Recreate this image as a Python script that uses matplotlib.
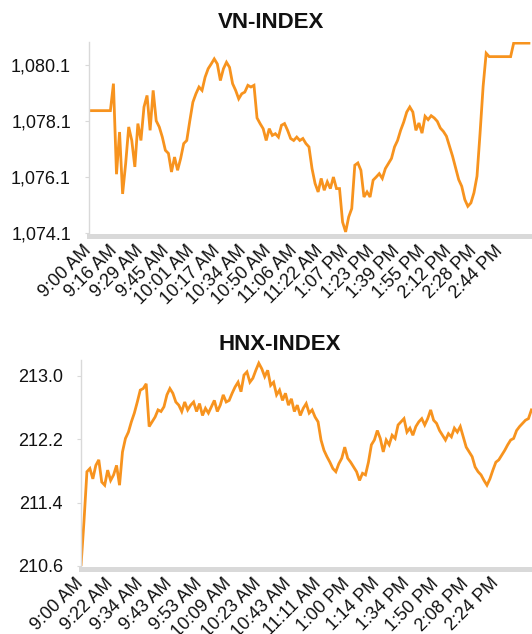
import matplotlib
matplotlib.use("Agg")
import matplotlib.pyplot as plt
import numpy as np
from matplotlib.ticker import FuncFormatter

plt.rcParams['font.family'] = ['Liberation Sans', 'DejaVu Sans']

# ---------------- data ----------------
vn_labels = ["9:00 AM", "9:16 AM", "9:29 AM", "9:45 AM", "10:01 AM", "10:17 AM",
             "10:34 AM", "10:50 AM", "11:06 AM", "11:22 AM", "1:07 PM", "1:23 PM",
             "1:39 PM", "1:55 PM", "2:12 PM", "2:28 PM", "2:44 PM"]
vn_values = [1078.46] * 8 + [
    1079.42, 1076.2, 1077.7, 1075.5, 1076.58, 1077.88, 1077.4, 1076.46, 1078.0, 1077.4,
    1078.59, 1079.0, 1077.76, 1079.18, 1078.1, 1077.88, 1077.52, 1077.05, 1076.94, 1076.28,
    1076.81, 1076.34, 1076.76, 1077.29, 1077.4, 1078.1, 1078.76, 1079.06, 1079.3, 1079.18,
    1079.65, 1079.95, 1080.12, 1080.3, 1080.12, 1079.53, 1079.95, 1080.18, 1080.0, 1079.42,
    1079.18, 1078.88, 1079.06, 1079.12, 1079.36, 1079.3, 1079.36, 1078.2, 1078.0, 1077.82,
    1077.4, 1077.82, 1077.58, 1077.64, 1077.52, 1077.94, 1078.0, 1077.76, 1077.47, 1077.4,
    1077.52, 1077.4, 1077.47, 1077.29, 1077.17, 1076.4, 1075.87, 1075.57, 1076.05, 1075.63,
    1075.93, 1075.69, 1076.1, 1075.69, 1075.69, 1074.5, 1074.15, 1074.68, 1074.98, 1076.52,
    1076.6, 1076.34, 1075.39, 1075.57, 1075.39, 1075.99, 1076.1, 1076.22, 1076.05, 1076.4,
    1076.58, 1076.76, 1077.17, 1077.4, 1077.76, 1078.05, 1078.41, 1078.59, 1078.41, 1077.76,
    1078.02, 1077.66, 1078.26, 1078.14, 1078.28, 1078.2, 1078.08, 1077.84, 1077.72, 1077.55,
    1077.19, 1076.84, 1076.42, 1076.01, 1075.77, 1075.3, 1075.06, 1075.18, 1075.54, 1076.13,
    1077.66, 1079.32, 1080.5] + [1080.38] * 8 + [1080.86] * 6
vn_yticks = [1074.1, 1076.1, 1078.1, 1080.1]

hnx_labels = ["9:00 AM", "9:22 AM", "9:34 AM", "9:43 AM", "9:53 AM", "10:09 AM",
              "10:23 AM", "10:43 AM", "11:11 AM", "1:00 PM", "1:14 PM", "1:34 PM",
              "1:50 PM", "2:08 PM", "2:24 PM"]
hnx_values = [
    210.6, 211.16, 211.79, 211.83, 211.7, 211.87, 211.94, 211.66, 211.62, 211.81,
    211.68, 211.75, 211.87, 211.62, 212.04, 212.21, 212.29, 212.42, 212.53, 212.67,
    212.82, 212.84, 212.9, 212.36, 212.42, 212.48, 212.57, 212.55, 212.61, 212.76,
    212.84, 212.78, 212.67, 212.63, 212.55, 212.67, 212.57, 212.63, 212.67, 212.55,
    212.65, 212.5, 212.59, 212.53, 212.61, 212.69, 212.55, 212.63, 212.76, 212.67,
    212.69, 212.78, 212.86, 212.92, 212.8, 213.01, 213.05, 212.92, 212.97, 213.07,
    213.16, 213.09, 212.99, 213.07, 212.88, 212.92, 212.76, 212.82, 212.69, 212.78,
    212.63, 212.71, 212.55, 212.63, 212.5, 212.59, 212.65, 212.53, 212.57, 212.48,
    212.42, 212.19, 212.06, 211.98, 211.91, 211.83, 211.79, 211.89, 211.96, 212.1,
    211.96, 211.91, 211.85, 211.79, 211.68, 211.77, 211.75, 211.91, 212.13, 212.19,
    212.31, 212.21, 212.04, 212.19, 212.13, 212.25, 212.21, 212.38, 212.42, 212.46,
    212.29, 212.34, 212.25, 212.36, 212.42, 212.46, 212.38, 212.46, 212.57, 212.44,
    212.4, 212.31, 212.25, 212.19, 212.27, 212.23, 212.34, 212.29, 212.36, 212.23,
    212.1, 212.04, 211.98, 211.85, 211.79, 211.75, 211.68, 211.62, 211.7, 211.81,
    211.91, 211.94, 212.0, 212.06, 212.13, 212.19, 212.21, 212.31, 212.36, 212.4,
    212.44, 212.46, 212.57]
hnx_yticks = [210.6, 211.4, 212.2, 213.0]

# ---------------- style ----------------
LINE = '#F7931E'
GRID = '#D9D9D9'
W, H = 532, 634
fig = plt.figure(figsize=(W / 100, H / 100), dpi=100)


def make_axes(rect, values, labels, tick_step, yticks, ylim, xmax, fmt):
    ax = fig.add_axes(rect)
    x = np.arange(len(values))
    ax.plot(x, values, color=LINE, lw=2.0, solid_joinstyle='miter')
    ax.set_xlim(0, xmax)
    ax.set_ylim(*ylim)
    ax.set_yticks(yticks)
    ax.yaxis.set_major_formatter(FuncFormatter(fmt))
    ax.set_xticks(np.arange(len(labels)) * tick_step)
    ax.set_xticklabels(labels)
    for s in ['top', 'right']:
        ax.spines[s].set_visible(False)
    ax.spines['left'].set_color(GRID)
    ax.spines['left'].set_linewidth(1.0)
    ax.spines['bottom'].set_color(GRID)
    ax.spines['bottom'].set_linewidth(3.6)
    ax.spines['bottom'].set_position(('outward', 1.8))
    ax.tick_params(axis='y', length=3, width=0.8, color=GRID, pad=10,
                   labelsize=13, labelcolor='#111111')
    ax.tick_params(axis='x', length=0, pad=9, labelsize=13, labelcolor='#111111')
    for lab in ax.get_xticklabels():
        lab.set_rotation(45)
        lab.set_ha('right')
        lab.set_va('center')
        lab.set_rotation_mode('anchor')
    return ax


def px_rect(left, top, right, bottom):
    return [left / W, 1 - bottom / H, (right - left) / W, (bottom - top) / H]


make_axes(px_rect(89, 42, 532, 233.3), vn_values, vn_labels, 8.41, vn_yticks,
          (1074.1, 1080.9), 145.0, lambda v, p: f"{v:,.1f}")
make_axes(px_rect(81, 360, 532, 566), hnx_values, hnx_labels, 10, hnx_yticks,
          (210.6, 213.2), 152.2, lambda v, p: f"{v:.1f}")

fig.text(271 / W, 1 - 23 / H, "VN-INDEX", ha='center', va='center',
         fontsize=16, fontweight='bold', color='#111111')
fig.text(280 / W, 1 - 345 / H, "HNX-INDEX", ha='center', va='center',
         fontsize=16, fontweight='bold', color='#111111')

fig.savefig("out.png", dpi=100)
